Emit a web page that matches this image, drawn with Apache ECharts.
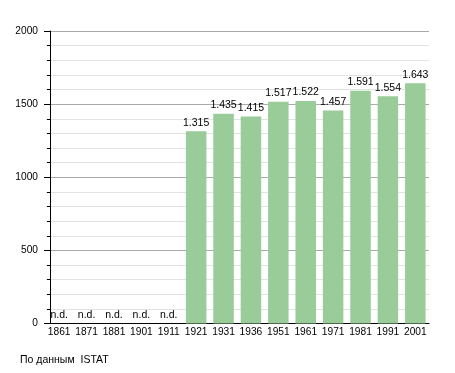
<!DOCTYPE html>
<html>
<head>
<meta charset="utf-8">
<script src="https://cdn.jsdelivr.net/npm/echarts@6/dist/echarts.min.js"></script>
<style>html,body{margin:0;padding:0;background:#fff}#c{width:455px;height:373px}</style>
</head>
<body>
<div id="c"></div>
<script>
const years = ['1861','1871','1881','1901','1911','1921','1931','1936','1951','1961','1971','1981','1991','2001'];
const population = [null,null,null,null,null,1315,1435,1415,1517,1522,1457,1591,1554,1643];
const yTicks = [0,500,1000,1500,2000];
const sourceNote = 'По данным  ISTAT';

function fmt(v){
  const s = String(v);
  return s.length > 3 ? s.slice(0, s.length-3) + '.' + s.slice(s.length-3) : s;
}
const FONT = 'Liberation Sans, Arial, sans-serif';
const data = population.map(v => v === null
  ? {value: 0, label: {formatter: 'n.d.'}}
  : v);

const chart = echarts.init(document.getElementById('c'), null, {renderer: 'canvas'});
chart.setOption({
  animation: false,
  backgroundColor: '#fff',
  grid: {left: 45.5, right: 26, top: 31, bottom: 49.5, containLabel: false},
  graphic: [{type: 'text', left: 20, top: 355, style: {text: sourceNote, font: '10.5px ' + FONT, fill: '#000'}}],
  xAxis: {
    type: 'category', data: years,
    axisLine: {lineStyle: {color: '#000', width: 1}},
    axisTick: {show: false},
    axisLabel: {color: '#000', fontFamily: FONT, fontSize: 10.2, margin: 4, interval: 0}
  },
  yAxis: {
    type: 'value', min: yTicks[0], max: yTicks[yTicks.length-1], interval: 500,
    offset: -4.5,
    axisLine: {show: true, lineStyle: {color: '#000', width: 1}},
    axisTick: {show: true, length: 6, lineStyle: {color: '#000'}},
    minorTick: {show: true, splitNumber: 5, length: 3, lineStyle: {color: '#000'}},
    axisLabel: {color: '#000', fontFamily: FONT, fontSize: 10.2, margin: 12, formatter: v => String(v)},
    splitLine: {show: true, lineStyle: {color: '#aaaaaa', width: 1}},
    minorSplitLine: {show: true, lineStyle: {color: '#e2e2e2', width: 1}}
  },
  series: [{
    type: 'bar', data: data, barWidth: 20.5,
    itemStyle: {color: '#99cc99'},
    label: {show: true, position: 'top', distance: 3, color: '#000', fontFamily: FONT, fontSize: 10.5,
      formatter: p => fmt(p.value)}
  }]
});
</script>
</body>
</html>
